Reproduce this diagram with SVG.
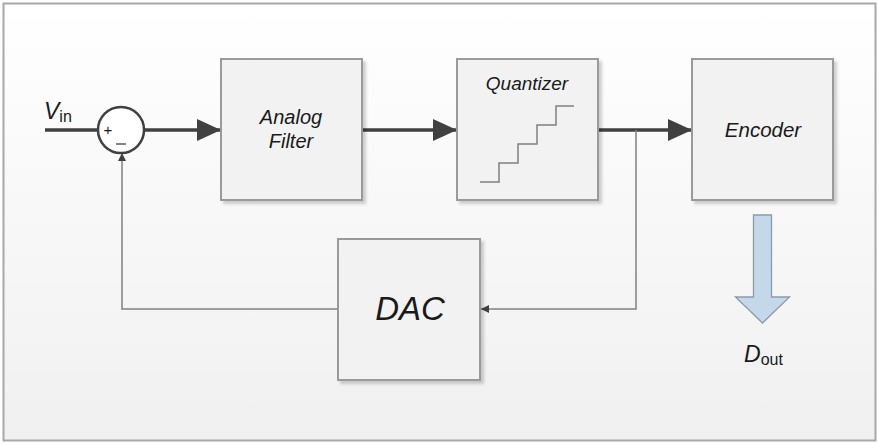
<svg xmlns="http://www.w3.org/2000/svg" width="879" height="444" viewBox="0 0 879 444">
<defs>
<linearGradient id="bg" x1="0" y1="0" x2="0" y2="1">
<stop offset="0" stop-color="#ffffff"/>
<stop offset="1" stop-color="#f0f0f0"/>
</linearGradient>
<filter id="sh" x="-10%" y="-10%" width="130%" height="130%">
<feDropShadow dx="3" dy="3" stdDeviation="1.5" flood-color="#000" flood-opacity="0.18"/>
</filter>
<marker id="bigA" viewBox="0 0 24 22" refX="24" refY="11" markerWidth="24" markerHeight="22" markerUnits="userSpaceOnUse" orient="auto">
<path d="M0,0 L24,11 L0,22 z" fill="#404040"/>
</marker>
<marker id="small" viewBox="0 0 8 8" refX="8" refY="4" markerWidth="8" markerHeight="8" markerUnits="userSpaceOnUse" orient="auto">
<path d="M0,0 L8,4 L0,8 z" fill="#404040"/>
</marker>
</defs>
<style>
.box{fill:#f2f2f2;stroke:#9a9a9a;stroke-width:2;filter:url(#sh)}
.lbl{font-family:"Liberation Sans",Arial,sans-serif;font-style:italic;fill:#1a1a1a;text-anchor:middle}
.thick{stroke:#404040;stroke-width:3.5;fill:none}
.thin{stroke:#808080;stroke-width:1.5;fill:none}
</style>
<rect x="3.5" y="3.5" width="872" height="437" fill="url(#bg)" stroke="#a8a8a8" stroke-width="2"/>

<g id="connectors">
<line x1="45" y1="130" x2="98" y2="130" class="thick" stroke-width="2.5"/>
<line x1="145" y1="130" x2="221" y2="130" class="thick" marker-end="url(#bigA)"/>
<line x1="362" y1="130" x2="457" y2="130" class="thick" marker-end="url(#bigA)"/>
<line x1="598" y1="130" x2="692" y2="130" class="thick" marker-end="url(#bigA)"/>
<polyline points="636,130 636,309 481,309" class="thin" marker-end="url(#small)"/>
<polyline points="338,309 122,309 122,153" class="thin" marker-end="url(#small)"/>
</g>

<g id="sum">
<circle cx="121" cy="130" r="23" fill="#ffffff" stroke="#404040" stroke-width="2.5"/>
<text x="108" y="135" font-family="Liberation Sans,Arial,sans-serif" font-size="15" fill="#1a1a1a" text-anchor="middle">+</text>
<line x1="116" y1="144" x2="126" y2="144" stroke="#404040" stroke-width="1.3"/>
</g>

<g id="vin">
<text x="44" y="119" font-family="Liberation Sans,Arial,sans-serif" font-size="23" font-style="italic" fill="#1a1a1a">V<tspan font-style="normal" font-size="16" dy="3">in</tspan></text>
</g>

<g id="analog-filter">
<rect x="221" y="59" width="141" height="141" class="box"/>
<text x="291" y="124" class="lbl" font-size="20">Analog</text>
<text x="291" y="148" class="lbl" font-size="20">Filter</text>
</g>

<g id="quantizer">
<rect x="457" y="59" width="141" height="141" class="box"/>
<text x="527" y="90" class="lbl" font-size="19">Quantizer</text>
<polyline points="480,182 499,182 499,163 518,163 518,144 537,144 537,125 556,125 556,106 574,106" fill="none" stroke="#808080" stroke-width="1.5"/>
</g>

<g id="encoder">
<rect x="692" y="59" width="141" height="141" class="box"/>
<text x="763" y="137" class="lbl" font-size="20.5">Encoder</text>
</g>

<g id="dac">
<rect x="338" y="239" width="142" height="141" class="box"/>
<text x="410" y="320" class="lbl" font-size="33">DAC</text>
</g>

<g id="dout">
<path d="M753.5,215 L771.5,215 L771.5,297 L789.5,297 L762.5,323 L735.5,297 L753.5,297 Z" fill="#c5d8ea" stroke="#8a9aaa" stroke-width="1.3"/>
<text x="744" y="362" font-family="Liberation Sans,Arial,sans-serif" font-size="23" font-style="italic" fill="#1a1a1a">D<tspan font-style="normal" font-size="16" dy="3">out</tspan></text>
</g>
</svg>
